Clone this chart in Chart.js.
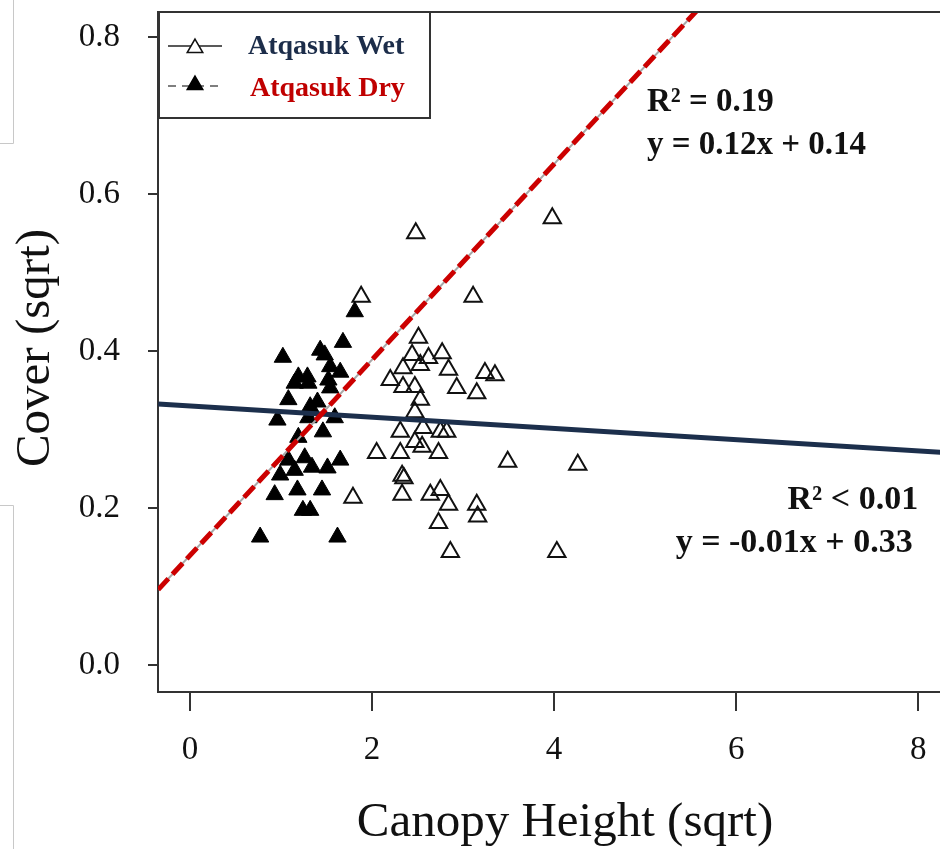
<!DOCTYPE html>
<html>
<head>
<meta charset="utf-8">
<script src="https://cdn.jsdelivr.net/npm/chart.js@4.4.1/dist/chart.umd.min.js"></script>
<style>
  html, body { margin: 0; padding: 0; background: #fff; overflow: hidden; }
  #wrap { width: 940px; height: 849px; position: relative; }
  #coverChart { display: block; }
</style>
</head>
<body>
<div id="wrap"><canvas id="coverChart"></canvas></div>
<script>
// Atqasuk Wet (open triangles)
const wetX = [3.98, 2.48, 1.88, 3.11, 2.51, 2.44, 2.62, 2.77, 2.53, 2.34,
              2.84, 3.24, 3.35, 2.20, 2.34, 2.47, 2.93, 3.15, 2.53, 2.47,
              2.31, 2.56, 2.75, 2.82, 2.47, 2.55, 2.05, 2.31, 2.73, 3.49,
              4.26, 2.33, 2.35, 1.79, 2.33, 2.64, 2.75, 2.84, 3.15, 3.16,
              2.73, 2.86, 4.03];
const wetY = [0.569, 0.550, 0.469, 0.469, 0.417, 0.395, 0.391, 0.397, 0.382, 0.378,
              0.376, 0.372, 0.369, 0.363, 0.354, 0.354, 0.353, 0.346, 0.338, 0.322,
              0.297, 0.302, 0.297, 0.297, 0.284, 0.278, 0.270, 0.270, 0.270, 0.259,
              0.255, 0.241, 0.238, 0.213, 0.217, 0.217, 0.223, 0.204, 0.204, 0.189,
              0.181, 0.144, 0.144];

// Atqasuk Dry (filled triangles)
const dryX = [1.68, 1.81, 1.02, 1.43, 1.48, 1.54, 1.65, 1.19, 1.29, 1.15,
              1.30, 1.52, 1.54, 1.08, 1.40, 1.32, 0.96, 1.30, 1.59, 1.46,
              1.19, 1.08, 1.26, 1.65, 1.15, 1.34, 0.99, 1.51, 0.93, 1.18,
              1.45, 1.24, 1.32, 0.77, 1.62];
const dryY = [0.411, 0.450, 0.392, 0.401, 0.395, 0.380, 0.373, 0.367, 0.367, 0.359,
              0.359, 0.363, 0.353, 0.338, 0.335, 0.329, 0.312, 0.315, 0.315, 0.297,
              0.290, 0.261, 0.264, 0.261, 0.248, 0.252, 0.242, 0.251, 0.217, 0.223,
              0.223, 0.197, 0.197, 0.163, 0.163];

// fitted lines, end points
const wetFitX = [-0.35, 8.3];
const wetFitY = [0.3325, 0.2705];
const dryFitX = [-0.35, 5.7];
const dryFitY = [0.096, 0.850];

const xTicks = [0, 2, 4, 6, 8];
const yTicks = [0.0, 0.2, 0.4, 0.6, 0.8];

const wetFitText = ['R\u00B2 < 0.01', 'y = -0.01x + 0.33'];
const dryFitText = ['R\u00B2 = 0.19', 'y = 0.12x + 0.14'];

const SERIF = '"Liberation Serif", "Times New Roman", serif';
const NAVY = '#1c2d4a';
const RED = '#c00000';

const toPoints = (xs, ys) => xs.map((x, i) => ({ x: x, y: ys[i] }));

// legend box, axis titles, fit labels and the stray gray frame lines
const decorations = {
    id: 'decorations',
    afterDraw(chart) {
        const ctx = chart.ctx;
        const area = chart.chartArea;
        const xs = chart.scales.x;
        const ys = chart.scales.y;
        ctx.save();

        // faint frame lines at the far left
        ctx.strokeStyle = '#c8c8c8';
        ctx.lineWidth = 1;
        ctx.beginPath();
        ctx.moveTo(13.5, 0); ctx.lineTo(13.5, 143.5); ctx.lineTo(0, 143.5);
        ctx.moveTo(0, 505.5); ctx.lineTo(13.5, 505.5); ctx.lineTo(13.5, 849);
        ctx.stroke();

        // top border of the plot
        ctx.strokeStyle = '#333';
        ctx.lineWidth = 2;
        ctx.beginPath();
        ctx.moveTo(area.left, area.top);
        ctx.lineTo(area.right, area.top);
        ctx.stroke();

        // legend
        ctx.fillStyle = '#fff';
        ctx.fillRect(area.left, area.top, 272, 106);
        ctx.strokeRect(area.left + 1, area.top, 271, 106);

        ctx.lineWidth = 1.5;
        ctx.strokeStyle = '#222';
        ctx.beginPath();
        ctx.moveTo(area.left + 10, area.top + 34);
        ctx.lineTo(area.left + 64, area.top + 34);
        ctx.stroke();
        ctx.strokeStyle = '#555';
        ctx.setLineDash([8, 6]);
        ctx.beginPath();
        ctx.moveTo(area.left + 10, area.top + 74);
        ctx.lineTo(area.left + 64, area.top + 74);
        ctx.stroke();
        ctx.setLineDash([]);

        ctx.fillStyle = '#fff';
        ctx.strokeStyle = '#111';
        Chart.helpers.drawPoint(ctx, { pointStyle: 'triangle', radius: 9, borderWidth: 2, rotation: 0 },
            area.left + 37, area.top + 36);
        ctx.fillStyle = '#000';
        ctx.strokeStyle = '#000';
        Chart.helpers.drawPoint(ctx, { pointStyle: 'triangle', radius: 9, borderWidth: 1, rotation: 0 },
            area.left + 37, area.top + 73);

        ctx.font = 'bold 28px ' + SERIF;
        ctx.textAlign = 'left';
        ctx.textBaseline = 'middle';
        ctx.fillStyle = NAVY;
        ctx.fillText('Atqasuk Wet', area.left + 90, area.top + 35);
        ctx.fillStyle = RED;
        ctx.fillText('Atqasuk Dry', area.left + 92, area.top + 77);

        // fit labels, placed in data units
        ctx.fillStyle = '#111';
        ctx.font = 'bold 33px ' + SERIF;
        ctx.textAlign = 'left';
        ctx.fillText(dryFitText[0], xs.getPixelForValue(5.02), ys.getPixelForValue(0.717));
        ctx.fillText(dryFitText[1], xs.getPixelForValue(5.02), ys.getPixelForValue(0.662));
        ctx.font = 'bold 34px ' + SERIF;
        ctx.textAlign = 'right';
        ctx.fillText(wetFitText[0], xs.getPixelForValue(8.0), ys.getPixelForValue(0.21));
        ctx.fillText(wetFitText[1], xs.getPixelForValue(7.94), ys.getPixelForValue(0.155));

        // axis titles
        ctx.fillStyle = '#111';
        ctx.font = '49px ' + SERIF;
        ctx.textAlign = 'center';
        ctx.fillText('Canopy Height (sqrt)', 565, 823);
        ctx.translate(36, 348);
        ctx.rotate(-Math.PI / 2);
        ctx.fillText('Cover (sqrt)', 0, 0);

        ctx.restore();
    }
};

function initCoverChart() {
    const ctx = document.getElementById('coverChart').getContext('2d');

    new Chart(ctx, {
        type: 'scatter',
        data: {
            datasets: [{
                label: 'Dry fit',
                type: 'line',
                data: toPoints(dryFitX, dryFitY),
                borderColor: '#a8a8a8',
                borderWidth: 2,
                pointRadius: 0,
                order: 1
            }, {
                label: 'Dry fit dashes',
                type: 'line',
                data: toPoints(dryFitX, dryFitY),
                borderColor: '#cc0000',
                borderWidth: 5,
                borderDash: [15, 6],
                pointRadius: 0,
                order: 0
            }, {
                label: 'Wet fit',
                type: 'line',
                data: toPoints(wetFitX, wetFitY),
                borderColor: '#1c2f4c',
                borderWidth: 5,
                pointRadius: 0,
                order: 2
            }, {
                label: 'Atqasuk Dry',
                data: toPoints(dryX, dryY),
                pointStyle: 'triangle',
                pointRadius: 10,
                backgroundColor: '#000',
                borderColor: '#000',
                borderWidth: 1,
                order: 3
            }, {
                label: 'Atqasuk Wet',
                data: toPoints(wetX, wetY),
                pointStyle: 'triangle',
                pointRadius: 10,
                backgroundColor: 'rgba(255,255,255,0)',
                borderColor: '#111',
                borderWidth: 2,
                order: 4
            }]
        },
        options: {
            responsive: true,
            maintainAspectRatio: false,
            animation: false,
            layout: { autoPadding: false, padding: { top: 12, right: 0, left: 0, bottom: 0 } },
            plugins: {
                legend: { display: false },
                tooltip: { enabled: false }
            },
            scales: {
                x: {
                    type: 'linear',
                    min: -0.352,
                    max: 8.24,
                    afterFit: scale => {
                        scale.height = 157;
                        scale.paddingLeft = 0;
                        scale.paddingRight = 0;
                    },
                    afterBuildTicks: scale => { scale.ticks = xTicks.map(v => ({ value: v })); },
                    grid: { drawOnChartArea: false, tickLength: 19, color: '#333', lineWidth: 2 },
                    border: { display: true, color: '#333', width: 2 },
                    ticks: {
                        padding: 20,
                        color: '#111',
                        font: { family: SERIF, size: 33 },
                        callback: v => String(v)
                    }
                },
                y: {
                    type: 'linear',
                    min: -0.0344,
                    max: 0.8318,
                    afterFit: scale => {
                        scale.width = 158;
                        scale.paddingTop = 0;
                        scale.paddingBottom = 0;
                    },
                    afterBuildTicks: scale => { scale.ticks = yTicks.map(v => ({ value: v })); },
                    grid: { drawOnChartArea: false, tickLength: 10, color: '#333', lineWidth: 2 },
                    border: { display: true, color: '#333', width: 2 },
                    ticks: {
                        padding: 28,
                        color: '#111',
                        font: { family: SERIF, size: 33 },
                        callback: v => v.toFixed(1)
                    }
                }
            }
        },
        plugins: [decorations]
    });
}

document.addEventListener('DOMContentLoaded', initCoverChart);
</script>
</body>
</html>
